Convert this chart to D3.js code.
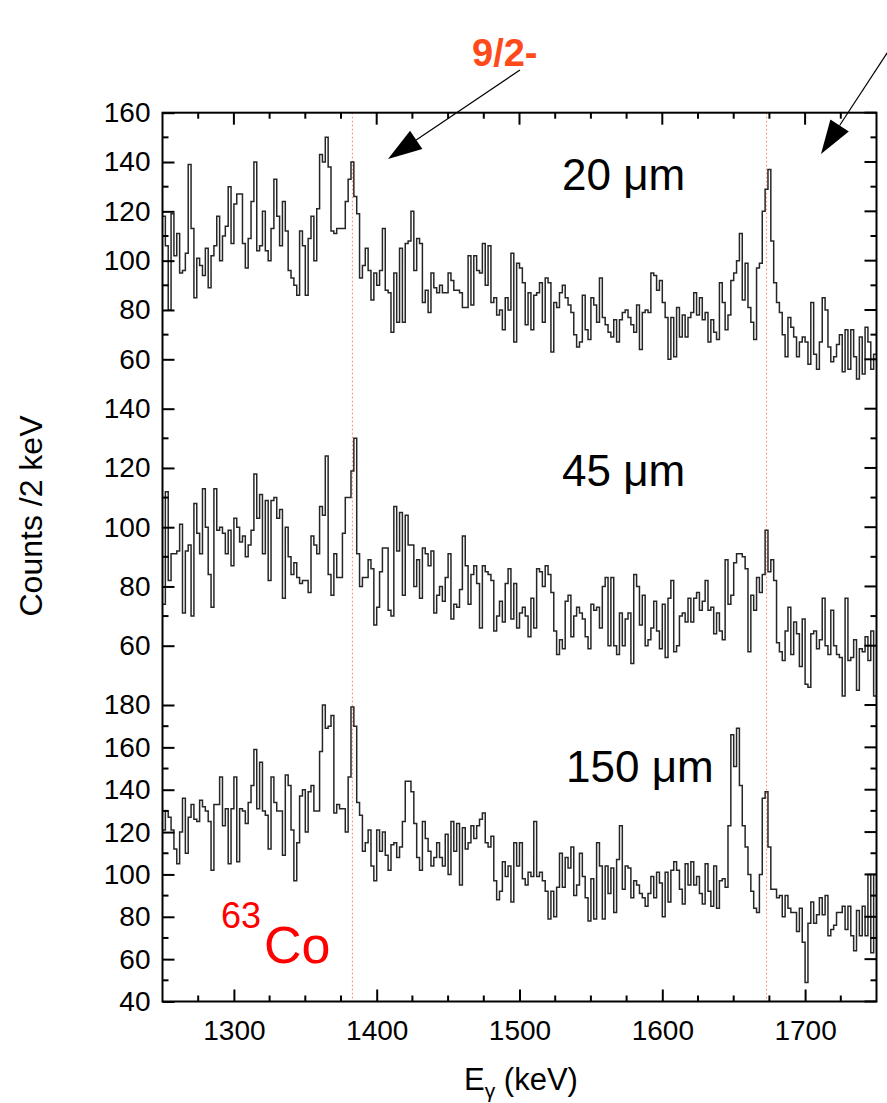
<!DOCTYPE html>
<html><head><meta charset="utf-8">
<script src="https://cdn.jsdelivr.net/npm/d3@7"></script>
<style>
body{margin:0;background:#fff}
svg{display:block}
text{font-family:"Liberation Sans",Arial,Helvetica,sans-serif}
</style>
</head><body>
<svg id="chart" width="887" height="1103"></svg>
<script>
// ---------------- data ----------------
const startEnergy = 1250;   // keV, left edge of first bin
const binWidth = 2;         // keV per bin

const counts20um = [
118,106,80,119,102,111,95,96,103,139,
113,85,101,98,94,105,89,102,106,118,
100,110,114,130,107,123,127,127,107,97,
109,124,140,104,106,120,104,100,113,133,
118,106,124,112,96,93,90,86,112,106,
86,109,118,100,121,143,140,150,138,112,
111,113,
113,113,124,133,140,126,119,93,98,105,
96,84,95,90,96,113,88,87,71,95,
75,105,75,107,108,120,96,109,107,83,
88,79,95,89,87,90,87,87,95,92,
88,88,87,81,81,102,82,102,96,95,
107,90,106,83,85,78,80,72,85,80,
103,67,
99,97,91,74,87,72,86,87,91,75,
93,91,63,83,81,87,90,85,82,79,
70,65,67,86,72,68,85,82,75,93,
77,74,71,69,76,67,76,79,80,77,
74,71,82,64,79,80,79,95,94,88,
92,83,77,60,77,61,81,69,78,69,
77,
79,87,78,85,76,79,67,76,71,68,
91,83,72,78,92,95,100,111,84,99,
81,75,68,97,99,120,129,137,
108,91,83,79,70,61,77,73,69,61,
67,69,67,58,83,62,56,67,85,80,
65,59,61,66,70,55,72,56,72,61,
52,69,54,73,67,56,62
];

const counts45um = [
74,112,82,91,91,92,101,71,92,94,
70,108,98,91,113,100,84,73,113,99,
100,98,91,99,87,103,100,95,97,90,
94,99,118,103,111,91,109,82,109,110,
103,106,76,100,90,84,88,83,81,82,
82,78,97,94,91,107,104,124,84,77,
91,83,
83,98,110,110,119,130,91,80,83,83,
89,86,67,73,85,93,93,72,70,107,
92,105,77,104,94,94,80,89,76,93,
91,87,92,71,77,80,75,83,91,69,
74,73,79,97,87,74,84,87,81,66,
87,85,84,82,65,70,75,68,81,86,
69,81,
66,71,73,70,63,76,66,86,85,80,
87,84,78,65,57,62,59,75,77,63,
70,73,71,69,63,59,74,72,73,66,
80,83,60,83,60,57,71,60,69,71,
54,84,80,67,77,60,62,66,75,65,
59,74,56,76,82,58,60,70,71,68,
76,
68,76,78,72,75,82,72,73,64,71,
65,62,89,74,77,88,91,91,90,86,
58,77,72,83,78,84,
99,
85,89,82,61,58,55,65,73,57,68,
64,53,69,47,46,64,65,59,62,76,
60,57,72,60,57,56,43,76,55,56,
62,45,59,58,63,55,65,43
];

const counts150um = [
121,130,127,121,112,105,120,136,110,127,
133,126,125,135,132,130,125,102,133,133,
146,123,131,105,131,146,106,131,130,124,
134,142,159,131,153,130,128,112,146,134,
130,130,109,147,142,121,97,115,137,140,
120,139,142,130,130,158,180,169,170,175,
129,133,
131,131,120,146,179,170,134,128,111,115,
121,104,97,121,111,120,109,102,114,115,
108,113,125,144,144,139,124,108,102,125,
117,111,104,108,115,108,104,119,100,125,
111,124,95,122,112,115,123,117,123,126,
129,115,113,118,97,88,92,106,99,104,
87,115,
104,115,98,95,101,99,125,99,101,97,
92,79,92,80,94,110,94,108,103,113,
90,95,110,99,89,78,98,79,115,104,
79,104,91,103,82,107,123,93,104,103,
89,97,95,91,89,85,91,99,89,101,
96,80,101,87,102,106,102,93,86,105,
95,
106,95,99,91,86,105,92,85,104,84,
97,98,94,123,166,151,169,142,123,113,
100,92,84,82,100,136,
139,
113,93,93,89,90,80,90,84,82,82,
73,84,68,49,77,87,77,81,89,81,
90,71,74,76,82,82,85,74,85,71,
64,83,71,85,71,100,63,100
];

const xTickLabels = [1300, 1400, 1500, 1600, 1700];
const yTicks20um  = [60, 80, 100, 120, 140, 160];
const yTicks45um  = [60, 80, 100, 120, 140];
const yTicks150um = [40, 60, 80, 100, 120, 140, 160, 180];
const levelEnergies = [1383, 1673];   // keV, dotted guide lines
const panelNames = ["20 μm", "45 μm", "150 μm"];

// ---------------- layout ----------------
const svg = d3.select("#chart");
const X0 = 162.5, X1 = 876.5, YTOP = 112.7, YBOT = 1001.5;
const TICKFONT = 28;

const x = d3.scaleLinear().domain([1250, 1750]).range([X0, X1]);

const panels = [
  {name: panelNames[0], data: counts20um,  ticks: yTicks20um,
   y: d3.scaleLinear().domain([60, 160]).range([359.3, 112.7]), minor: d3.range(60, 161, 10),
   label: {x: 562, y: 190}},
  {name: panelNames[1], data: counts45um,  ticks: yTicks45um,
   y: d3.scaleLinear().domain([60, 140]).range([645.7, 408.7]), minor: d3.range(60, 141, 10),
   label: {x: 562, y: 486}},
  {name: panelNames[2], data: counts150um, ticks: yTicks150um,
   y: d3.scaleLinear().domain([40, 180]).range([1001.5, 705]), minor: d3.range(40, 181, 10),
   label: {x: 566, y: 782}}
];

// dotted guide lines
svg.append("g").selectAll("line").data(levelEnergies).join("line")
  .attr("x1", d => x(d)).attr("x2", d => x(d))
  .attr("y1", YTOP).attr("y2", YBOT)
  .attr("stroke", "#f4876a").attr("stroke-width", 1.1)
  .attr("stroke-dasharray", "1.5,2.5");

// spectra
panels.forEach(p => {
  const pts = p.data.map((v, i) => [startEnergy + i * binWidth, v]);
  pts.push([startEnergy + p.data.length * binWidth, p.data[p.data.length - 1]]);
  const line = d3.line().x(d => x(d[0])).y(d => p.y(d[1])).curve(d3.curveStepAfter);
  svg.append("path").attr("d", line(pts))
    .attr("fill", "none").attr("stroke", "#262626").attr("stroke-width", 1.5)
    .attr("stroke-linejoin", "miter");

  // left axis labels + major ticks (inward)
  const gl = svg.append("g").attr("transform", `translate(${X0},0)`)
    .call(d3.axisLeft(p.y).tickValues(p.ticks).tickSizeInner(-12).tickSizeOuter(0).tickPadding(12));
  gl.select(".domain").remove();
  gl.selectAll(".tick line").attr("stroke", "#000").attr("stroke-width", 2);
  gl.selectAll(".tick text").attr("font-size", TICKFONT).attr("fill", "#000")
    .attr("font-family", "'Liberation Sans',Arial,sans-serif");

  // minor left ticks
  svg.append("g").selectAll("line").data(p.minor.filter(v => !p.ticks.includes(v))).join("line")
    .attr("x1", X0).attr("x2", X0 + 6).attr("y1", d => p.y(d)).attr("y2", d => p.y(d))
    .attr("stroke", "#000").attr("stroke-width", 2);
  // right ticks
  svg.append("g").selectAll("line").data(p.minor).join("line")
    .attr("x1", X1).attr("x2", d => X1 - (p.ticks.includes(d) ? 12 : 6))
    .attr("y1", d => p.y(d)).attr("y2", d => p.y(d))
    .attr("stroke", "#000").attr("stroke-width", 2);

  svg.append("text").attr("x", p.label.x).attr("y", p.label.y)
    .attr("font-size", 44).attr("fill", "#000").text(p.name);
});

// x axis (bottom)
const gx = svg.append("g").attr("transform", `translate(0,${YBOT})`)
  .call(d3.axisBottom(x).tickValues(xTickLabels).tickFormat(d3.format("d"))
    .tickSizeInner(-12).tickSizeOuter(0).tickPadding(19));
gx.select(".domain").remove();
gx.selectAll(".tick line").attr("stroke", "#000").attr("stroke-width", 2);
gx.selectAll(".tick text").attr("font-size", TICKFONT).attr("fill", "#000")
  .attr("font-family", "'Liberation Sans',Arial,sans-serif");

const minorX = d3.range(1275, 1750, 25).filter(v => !xTickLabels.includes(v));
svg.append("g").selectAll("line").data(minorX).join("line")
  .attr("x1", d => x(d)).attr("x2", d => x(d)).attr("y1", YBOT).attr("y2", YBOT - 6)
  .attr("stroke", "#000").attr("stroke-width", 2);
// top ticks
svg.append("g").selectAll("line").data(d3.range(1275, 1750, 25)).join("line")
  .attr("x1", d => x(d)).attr("x2", d => x(d)).attr("y1", YTOP)
  .attr("y2", d => YTOP + (xTickLabels.includes(d) ? 12 : 6))
  .attr("stroke", "#000").attr("stroke-width", 2);

// frame
svg.append("rect").attr("x", X0).attr("y", YTOP).attr("width", X1 - X0).attr("height", YBOT - YTOP)
  .attr("fill", "none").attr("stroke", "#000").attr("stroke-width", 2);

// axis titles
svg.append("text").attr("transform", "translate(42,516) rotate(-90)")
  .attr("text-anchor", "middle").attr("font-size", 32).attr("fill", "#000")
  .text("Counts /2 keV");
const xt = svg.append("text").attr("x", 521).attr("y", 1090)
  .attr("text-anchor", "middle").attr("font-size", 31).attr("fill", "#000");
xt.append("tspan").text("E");
xt.append("tspan").attr("font-size", 21).attr("dy", 8).text("γ");
xt.append("tspan").attr("dy", -8).text(" (keV)");

// annotations
svg.append("text").attr("x", 472).attr("y", 66).attr("font-size", 38).attr("font-weight", "bold")
  .attr("fill", "#ff4a1c").text("9/2-");

function arrow(x1, y1, x2, y2) {
  const ang = Math.atan2(y2 - y1, x2 - x1);
  const L = 34, W = 11;
  const bx = x2 - L * Math.cos(ang), by = y2 - L * Math.sin(ang);
  svg.append("line").attr("x1", x1).attr("y1", y1).attr("x2", bx).attr("y2", by)
    .attr("stroke", "#000").attr("stroke-width", 1.2);
  const px = -Math.sin(ang) * W, py = Math.cos(ang) * W;
  svg.append("path").attr("d", `M${x2},${y2}L${bx + px},${by + py}L${bx - px},${by - py}Z`)
    .attr("fill", "#000");
}
arrow(520, 70, 388, 159);
arrow(889, 50, 821, 154);

const co = svg.append("text").attr("x", 221).attr("y", 963).attr("fill", "#ff0000");
co.append("tspan").attr("font-size", 36).attr("dy", -35).text("63");
co.append("tspan").attr("font-size", 52).attr("dx", 3).attr("dy", 35).text("Co");
</script>
</body></html>
